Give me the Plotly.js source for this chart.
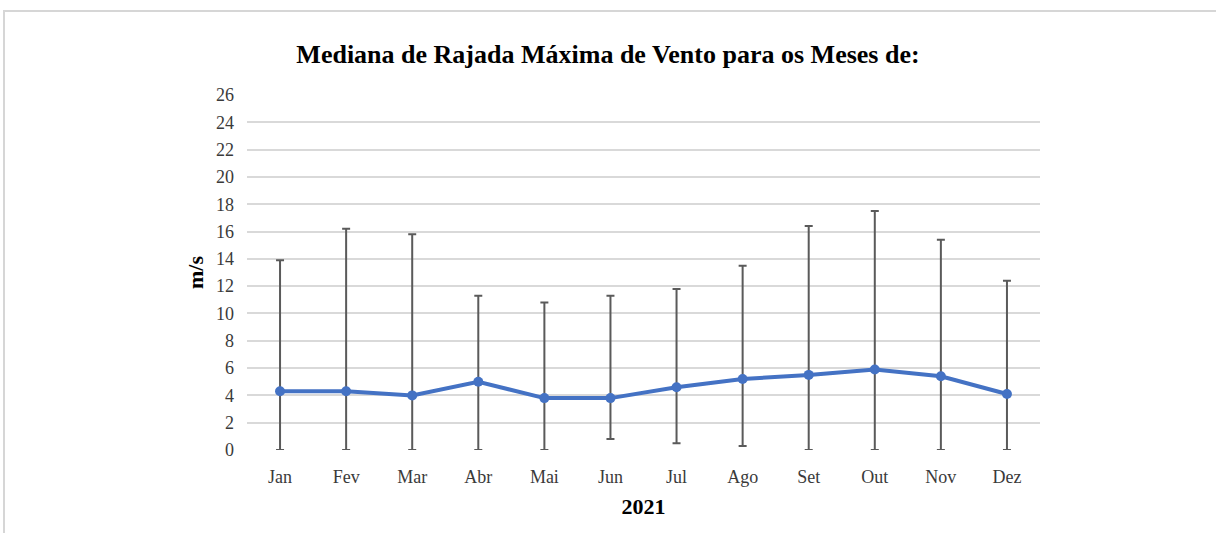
<!DOCTYPE html>
<html>
<head>
<meta charset="utf-8">
<script src="https://cdn.plot.ly/plotly-3.0.1.min.js"></script>
<style>
  html, body { margin: 0; padding: 0; background: #ffffff; }
  #frame { position: absolute; left: 3px; top: 10px; width: 1213px; height: 523px;
           border-top: 2px solid #d6d6d6; border-left: 2px solid #d6d6d6; box-sizing: border-box; }
  #chart { position: absolute; left: 0; top: 0; width: 1216px; height: 533px; }
</style>
</head>
<body>
<div id="frame"></div>
<div id="chart"></div>
<script>
const months = ["Jan","Fev","Mar","Abr","Mai","Jun","Jul","Ago","Set","Out","Nov","Dez"];
const medianVals = [4.3, 4.3, 4.0, 5.0, 3.8, 3.8, 4.6, 5.2, 5.5, 5.9, 5.4, 4.1];
const maxVals    = [13.9, 16.2, 15.8, 11.3, 10.8, 11.3, 11.8, 13.5, 16.4, 17.5, 15.4, 12.4];
const minVals    = [0, 0, 0, 0, 0, 0.8, 0.5, 0.3, 0, 0, 0, 0];
const yTicks = [0,2,4,6,8,10,12,14,16,18,20,22,24,26];

const plus = maxVals.map((v, i) => v - medianVals[i]);
const minus = minVals.map((v, i) => medianVals[i] - v);

const serif = "Liberation Serif, Times New Roman, serif";

const errTrace = {
  x: months, y: medianVals, type: "scatter", mode: "markers",
  marker: { size: 1, color: "rgba(0,0,0,0)" },
  error_y: { type: "data", symmetric: false, array: plus, arrayminus: minus,
             color: "#5a5a5a", thickness: 2, width: 4 },
  hoverinfo: "skip", showlegend: false
};
const lineTrace = {
  x: months, y: medianVals, type: "scatter", mode: "lines+markers",
  line: { color: "#4472C4", width: 4 },
  marker: { color: "#4472C4", size: 10 },
  showlegend: false
};

const layout = {
  width: 1216, height: 533,
  paper_bgcolor: "rgba(0,0,0,0)", plot_bgcolor: "rgba(0,0,0,0)",
  margin: { l: 247, r: 176, t: 95, b: 83 },
  title: { text: "<b>Mediana de Rajada Máxima de Vento para os Meses de:</b>",
           font: { family: serif, size: 26, color: "#000" },
           x: 0.5, xref: "container", xanchor: "center", y: 1 - 54 / 533, yref: "container", yanchor: "middle" },
  xaxis: {
    type: "category", range: [-0.5, 11.5],
    showgrid: false, zeroline: false, showline: false, ticks: "",
    tickfont: { family: serif, size: 18, color: "#3a3a3a" },
    ticklabelstandoff: 14,
    title: { text: "<b>2021</b>", font: { family: serif, size: 22, color: "#000" }, standoff: 12 }
  },
  yaxis: {
    range: [0, 26], tickvals: yTicks, ticktext: yTicks.map(String),
    showgrid: true, gridcolor: "#d9d9d9", gridwidth: 2,
    zeroline: false, showline: false, ticks: "",
    tickfont: { family: serif, size: 18, color: "#3a3a3a" },
    ticklabelstandoff: 12,
    title: { text: "<b>m/s</b>", font: { family: serif, size: 22, color: "#000" }, standoff: 6 }
  }
};

Plotly.newPlot("chart", [errTrace, lineTrace], layout, { displayModeBar: false, staticPlot: true });
</script>
</body>
</html>
